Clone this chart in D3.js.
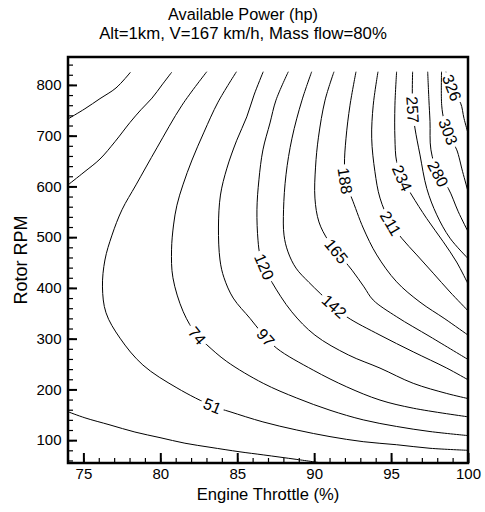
<!DOCTYPE html>
<html>
<head>
<meta charset="utf-8">
<script src="https://cdn.jsdelivr.net/npm/d3@7"></script>
<style>
  body { margin: 0; background: #fff; }
  text { font-family: Arial, "Liberation Sans", sans-serif; fill: #000; }
</style>
</head>
<body>
<svg id="chart" width="485" height="512"></svg>
<script>
// ---- data: [throttle %, rotor rpm] ----
const throttleTicks = [75, 80, 85, 90, 95, 100];
const rpmTicks = [100, 200, 300, 400, 500, 600, 700, 800];
const labelLevels = [51, 74, 97, 120, 142, 165, 188, 211, 234, 257, 280, 303, 326];

const line5 = [[74.0,733],[75.1,753],[76.08,773],[77.12,794],[78.06,825]];
const line28top = [[74.0,603],[75.04,628],[76.08,654],[77.05,688],[78.03,726],[78.74,751],[79.46,774],[80.11,800],[80.74,825]];
const line28 = [[74.0,156],[75.1,144],[76.73,130],[78.35,116],[79.98,105],[81.6,94],[83.23,86],[85.18,77],[86.69,71],[88.88,62],[90.51,55]];
const line51 = [[83.02,826],[81.41,760],[79.78,676],[78.42,603],[77.51,554],[76.86,504],[76.40,455],[76.24,402],[76.47,351],[77.38,301],[78.87,248],[81.08,203],[83.42,167],[84.53,156],[86.67,136],[88.87,120],[91.03,107],[93.19,97],[95.36,91],[97.53,84],[100,80]];
const line74 = [[84.95,826],[83.75,766],[82.84,707],[82.06,652],[81.47,603],[81.08,563],[80.86,524],[80.73,475],[80.82,420],[81.49,353],[82.37,307],[83.02,288],[84.32,255],[86.69,212],[88.87,183],[91.03,159],[93.19,140],[95.36,127],[97.53,117],[100,109]];
const line97 = [[86.69,826],[86.09,780],[85.62,737],[84.97,691],[84.33,636],[83.91,583],[83.78,520],[83.88,455],[84.14,420],[84.74,380],[85.83,340],[86.61,311],[87.57,281],[89.94,238],[92.12,205],[94.28,179],[96.44,163],[100,146]];
const line120 = [[88.32,826],[87.52,770],[87.13,725],[86.67,672],[86.41,613],[86.28,554],[86.35,494],[86.48,465],[86.80,439],[87.26,411],[88.54,353],[90.05,307],[92.22,268],[94.28,242],[96.44,212],[98.62,192],[100,182]];
const line142 = [[89.84,826],[89.21,770],[88.56,695],[88.17,623],[88.01,554],[88.04,504],[88.30,471],[88.82,439],[89.66,411],[91.22,366],[92.12,343],[94.28,307],[96.44,274],[98.62,242],[100,219]];
const line165 = [[91.29,826],[90.71,770],[90.28,697],[90.09,638],[90.05,577],[90.31,530],[90.90,494],[91.48,471],[92.46,435],[93.24,402],[93.84,376],[95.37,343],[97.53,304],[100,259]];
const line188 = [[92.72,826],[92.33,760],[92.07,695],[91.97,642],[92.07,603],[92.44,577],[93.19,518],[94.07,465],[95.36,412],[96.88,372],[98.50,339],[100,307]];
const line211 = [[94.15,826],[93.84,760],[93.74,695],[93.95,629],[94.28,577],[94.93,530],[95.69,498],[96.67,465],[97.74,429],[98.83,392],[100,355]];
const line234 = [[95.36,826],[95.25,760],[95.25,695],[95.36,649],[95.77,613],[96.34,583],[97.31,537],[98.39,491],[99.26,451],[100,408]];
const line257 = [[96.40,826],[96.38,780],[96.42,747],[96.55,715],[96.88,662],[97.32,596],[97.97,544],[98.83,498],[100,458]];
const line280 = [[97.38,826],[97.46,770],[97.53,728],[97.59,672],[98.05,625],[98.72,596],[99.37,550],[100,511]];
const line303 = [[98.28,826],[98.29,760],[98.44,731],[98.73,707],[99.02,686],[99.27,672],[99.65,629],[100,590]];
const line326 = [[98.57,826],[98.76,810],[98.96,794],[99.22,776],[99.52,764],[99.74,734],[100,705]];

const contours = [
  {level: 5, pts: line5}, {level: 28, pts: line28top}, {level: 28, pts: line28},
  {level: 51, pts: line51}, {level: 74, pts: line74}, {level: 97, pts: line97},
  {level: 120, pts: line120}, {level: 142, pts: line142}, {level: 165, pts: line165},
  {level: 188, pts: line188}, {level: 211, pts: line211}, {level: 234, pts: line234},
  {level: 257, pts: line257}, {level: 280, pts: line280}, {level: 303, pts: line303},
  {level: 326, pts: line326}
];

// where each label sits along its line (throttle, rpm)
const labelAt = {
  51: [83.39,167], 74: [82.42,307], 97: [86.87,303], 120: [86.80,443],
  142: [91.36,366], 165: [91.55,475], 188: [92.04,611], 211: [95.0,528],
  234: [95.77,617], 257: [96.38,751], 280: [98.11,625], 303: [98.72,708], 326: [98.98,795]
};

// ---- layout ----
const W = 485, H = 512;
const margin = {top: 57, right: 17, bottom: 49, left: 68};

const svg = d3.select("#chart");
svg.append("rect").attr("width", W).attr("height", H).attr("fill", "#fff");

const x = d3.scaleLinear().domain([74, 100]).range([margin.left, W - margin.right]);
const y = d3.scaleLinear().domain([55, 855]).range([H - margin.bottom, margin.top]);

// titles
svg.append("text").attr("x", 243).attr("y", 20).attr("text-anchor", "middle")
  .attr("font-size", 16.3).text("Available Power (hp)");
svg.append("text").attr("x", 243).attr("y", 38.5).attr("text-anchor", "middle")
  .attr("font-size", 16.8).text("Alt=1km, V=167 km/h, Mass flow=80%");

// contour lines, with gaps cut under the labels
const mask = svg.append("defs").append("mask").attr("id", "gaps")
  .attr("maskUnits", "userSpaceOnUse").attr("x", 0).attr("y", 0)
  .attr("width", W).attr("height", H);
mask.append("rect").attr("width", W).attr("height", H).attr("fill", "#fff");

const lineGen = d3.line()
  .x(d => x(d[0])).y(d => y(d[1]))
  .curve(d3.curveCatmullRom.alpha(0.5));

const paths = svg.append("g").attr("mask", "url(#gaps)")
  .selectAll("path").data(contours).join("path")
  .attr("d", d => lineGen(d.pts))
  .attr("fill", "none").attr("stroke", "#000").attr("stroke-width", 1);

const labelG = svg.append("g");
labelLevels.forEach(lv => {
  const node = paths.filter(d => d.level === lv).node();
  const ax = x(labelAt[lv][0]), ay = y(labelAt[lv][1]);
  const len = node.getTotalLength();
  let best = 0, bd = Infinity;
  for (let s = 0; s <= len; s += 0.5) {
    const p = node.getPointAtLength(s);
    const dd = (p.x - ax) ** 2 + (p.y - ay) ** 2;
    if (dd < bd) { bd = dd; best = s; }
  }
  const pc = node.getPointAtLength(best);
  const p0 = node.getPointAtLength(Math.max(0, best - 5));
  const p1 = node.getPointAtLength(Math.min(len, best + 5));
  let ang = Math.atan2(p1.y - p0.y, p1.x - p0.x) * 180 / Math.PI;
  if (ang < 0) ang += 180;
  if (ang >= 180) ang -= 180;
  const tf = `translate(${pc.x},${pc.y}) rotate(${ang})`;
  const t = labelG.append("text").attr("transform", tf)
    .attr("text-anchor", "middle").attr("dy", "0.36em")
    .attr("font-size", 16).text(lv);
  const w = t.node().getComputedTextLength();
  mask.append("rect").attr("transform", tf)
    .attr("x", -w / 2 - 3).attr("y", -4).attr("width", w + 6).attr("height", 8)
    .attr("fill", "#000");
});

// axes: inward ticks
const y0 = y.range()[0];
const xMinor = svg.append("g").attr("transform", `translate(0,${y0})`)
  .call(d3.axisBottom(x).tickValues(d3.range(75, 101, 1)).tickSizeInner(-5).tickSizeOuter(0).tickFormat(""));
const xMajor = svg.append("g").attr("transform", `translate(0,${y0})`)
  .call(d3.axisBottom(x).tickValues(throttleTicks).tickSizeInner(-10).tickSizeOuter(0).tickPadding(5.5));
const yMinor = svg.append("g").attr("transform", `translate(${margin.left},0)`)
  .call(d3.axisLeft(y).tickValues(d3.range(60, 855, 20)).tickSizeInner(-5).tickSizeOuter(0).tickFormat(""));
const yMajor = svg.append("g").attr("transform", `translate(${margin.left},0)`)
  .call(d3.axisLeft(y).tickValues(rpmTicks).tickSizeInner(-9).tickSizeOuter(0).tickPadding(6.5));

[xMinor, xMajor, yMinor, yMajor].forEach(g => {
  g.select(".domain").remove();
  g.attr("font-family", null).attr("font-size", 15);
  g.selectAll("text").attr("fill", "#000");
});
xMinor.selectAll("line").attr("stroke", "#000").attr("stroke-width", 1.2);
yMinor.selectAll("line").attr("stroke", "#000").attr("stroke-width", 1.2);
xMajor.selectAll("line").attr("stroke", "#000").attr("stroke-width", 2);
yMajor.selectAll("line").attr("stroke", "#000").attr("stroke-width", 2);

// frame
svg.append("rect")
  .attr("x", margin.left).attr("y", margin.top)
  .attr("width", W - margin.left - margin.right)
  .attr("height", H - margin.top - margin.bottom)
  .attr("fill", "none").attr("stroke", "#000").attr("stroke-width", 2.5);

// axis titles
svg.append("text").attr("x", (x.range()[0] + x.range()[1]) / 2).attr("y", 500)
  .attr("text-anchor", "middle").attr("font-size", 16.6).text("Engine Throttle (%)");
svg.append("text")
  .attr("transform", `translate(27,${(y.range()[0] + y.range()[1]) / 2}) rotate(-90)`)
  .attr("text-anchor", "middle").attr("font-size", 18).text("Rotor RPM");
</script>
</body>
</html>
